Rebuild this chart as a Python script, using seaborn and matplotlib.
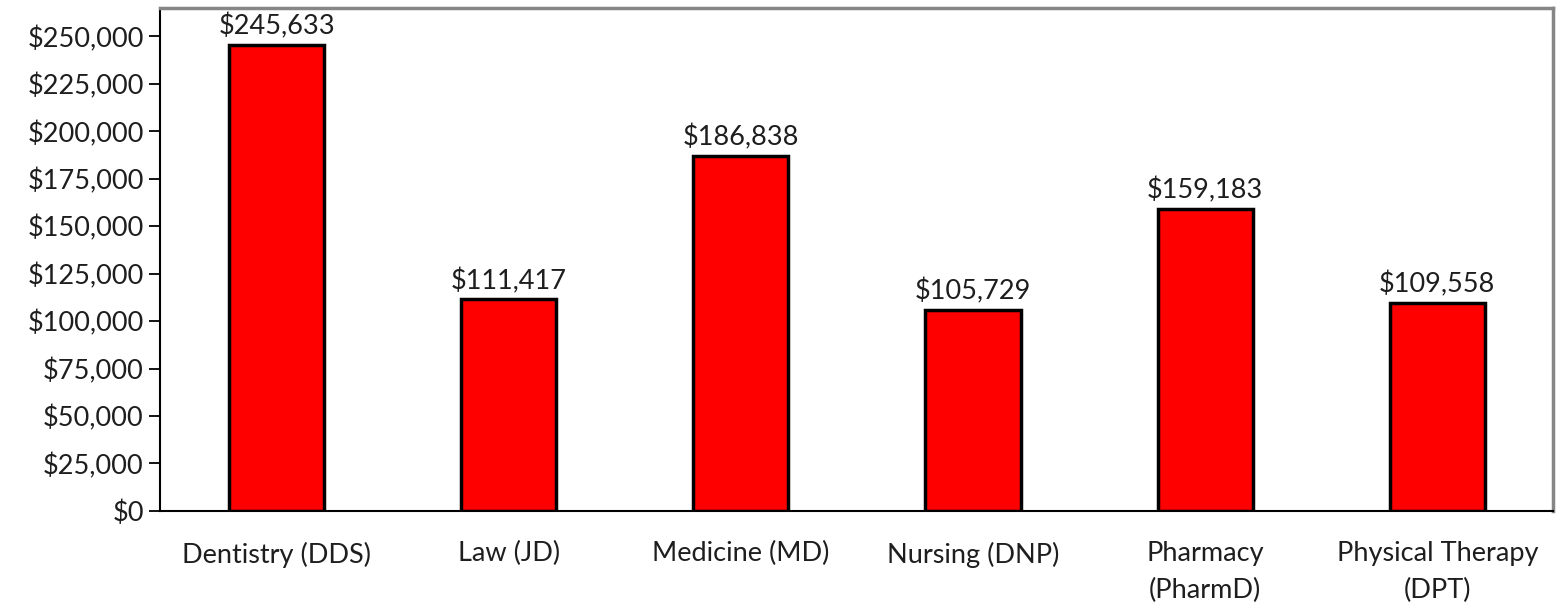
import matplotlib
matplotlib.use("Agg")
import matplotlib.pyplot as plt
import matplotlib.ticker as mticker
import numpy as np
import pandas as pd
import seaborn as sns

# data
programs = ["Dentistry (DDS)", "Law (JD)", "Medicine (MD)", "Nursing (DNP)",
            "Pharmacy\n(PharmD)", "Physical Therapy\n(DPT)"]
debt = [245633, 111417, 186838, 105729, 159183, 109558]

df = pd.DataFrame({"program": programs, "debt": debt})

sns.set_style("white")
plt.rcParams["font.family"] = ["Lato", "DejaVu Sans"]
FS = 19.5
TXT = "#1e1e1e"

fig, ax = plt.subplots(figsize=(15.58, 6.06), dpi=100)
fig.subplots_adjust(left=0.103, right=0.997, top=0.987, bottom=0.157)

sns.barplot(data=df, x="program", y="debt", color="#ff0000", saturation=1,
            edgecolor="black", linewidth=2.5, width=0.41, ax=ax)

ax.set_xlim(-0.5, len(programs) - 0.5)
ax.set_ylim(0, 265000)
ax.yaxis.set_major_locator(mticker.MultipleLocator(25000))
ax.yaxis.set_major_formatter(mticker.FuncFormatter(lambda v, p: f"${v:,.0f}"))

# category boundary ticks like Excel
ax.set_xticks(np.arange(len(programs)))
ax.set_xticklabels(programs, linespacing=1.55)
ax.set_xticks(np.arange(len(programs) + 1) - 0.5, minor=True)
ax.tick_params(axis="x", which="major", length=0, labelsize=FS, pad=22, labelcolor=TXT)
ax.tick_params(axis="x", which="minor", length=8, width=1.3, color="black", direction="out")
ax.tick_params(axis="y", length=8, width=1.3, color="black", direction="out",
               labelsize=FS, left=True, pad=4, labelcolor=TXT)
ax.set_xlabel("")
ax.set_ylabel("")

for side in ["left", "bottom"]:
    ax.spines[side].set_color("black")
    ax.spines[side].set_linewidth(1.5)
for side in ["top", "right"]:
    ax.spines[side].set_color("#868686")
    ax.spines[side].set_linewidth(2.5)

for i, v in enumerate(debt):
    ax.annotate(f"${v:,}", (i, v), xytext=(0, 4), textcoords="offset points",
                ha="center", va="bottom", fontsize=FS, color=TXT)

fig.savefig("out.png", dpi=100)
